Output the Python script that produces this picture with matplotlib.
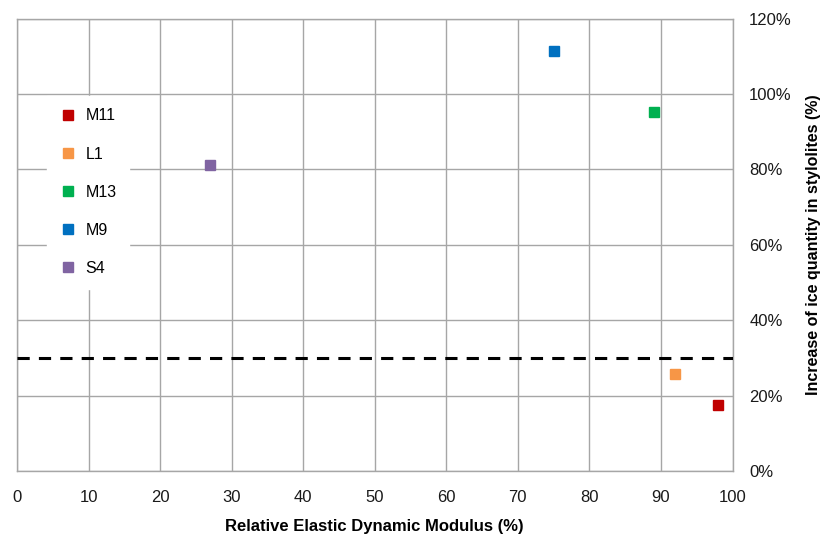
import matplotlib

matplotlib.use("Agg")
import matplotlib.pyplot as plt
from matplotlib.ticker import FuncFormatter, MultipleLocator

plt.rcParams["font.family"] = ["Liberation Sans", "DejaVu Sans"]

# Data
samples = ["M11", "L1", "M13", "M9", "S4"]
modulus = [98, 92, 89, 75, 27]            # Relative Elastic Dynamic Modulus (%)
ice_increase = [0.175, 0.258, 0.952, 1.114, 0.812]  # fraction
colors = ["#c00000", "#f79646", "#00b050", "#0070c0", "#8064a2"]
threshold = 0.30

GRID = "#a6a6a6"

fig = plt.figure(figsize=(8.25, 5.41), dpi=100)
ax = fig.add_axes([0.0206, 0.1294, 0.8673, 0.836])

for name, x, y, c in zip(samples, modulus, ice_increase, colors):
    ax.plot(x, y, ls="none", marker="s", ms=6.5, color=c, label=name, zorder=4)

ax.axhline(threshold, color="black", ls=(0, (4, 3)), lw=2.2, zorder=3)

ax.set_xlim(0, 100)
ax.set_ylim(0, 1.2)
ax.xaxis.set_major_locator(MultipleLocator(10))
ax.yaxis.set_major_locator(MultipleLocator(0.2))
ax.yaxis.set_major_formatter(FuncFormatter(lambda v, _: f"{v:.0%}"))
ax.yaxis.tick_right()
ax.yaxis.set_label_position("right")
ax.grid(True, color=GRID, lw=1.0, zorder=0)
ax.tick_params(length=0, labelsize=12, colors="#1a1a1a")
ax.tick_params(axis="x", pad=14)
ax.tick_params(axis="y", pad=12)
for s in ax.spines.values():
    s.set_color(GRID)
    s.set_linewidth(1.0)

ax.set_xlabel("Relative Elastic Dynamic Modulus (%)", fontsize=12, fontweight="bold", labelpad=10)
ax.set_ylabel("Increase of ice quantity in stylolites (%)", fontsize=11.5, fontweight="bold",
              labelpad=10)

leg = ax.legend(loc="upper left", bbox_to_anchor=(0.042, 0.830), frameon=True, fontsize=11.5,
                labelspacing=1.45, handletextpad=0.6, borderpad=0.8, borderaxespad=0,
                handlelength=1.0, fancybox=False)
leg.get_frame().set_edgecolor("white")
leg.get_frame().set_facecolor("white")
leg.get_frame().set_alpha(1)
leg.set_zorder(5)

fig.savefig("out.png", dpi=100, facecolor="white")
